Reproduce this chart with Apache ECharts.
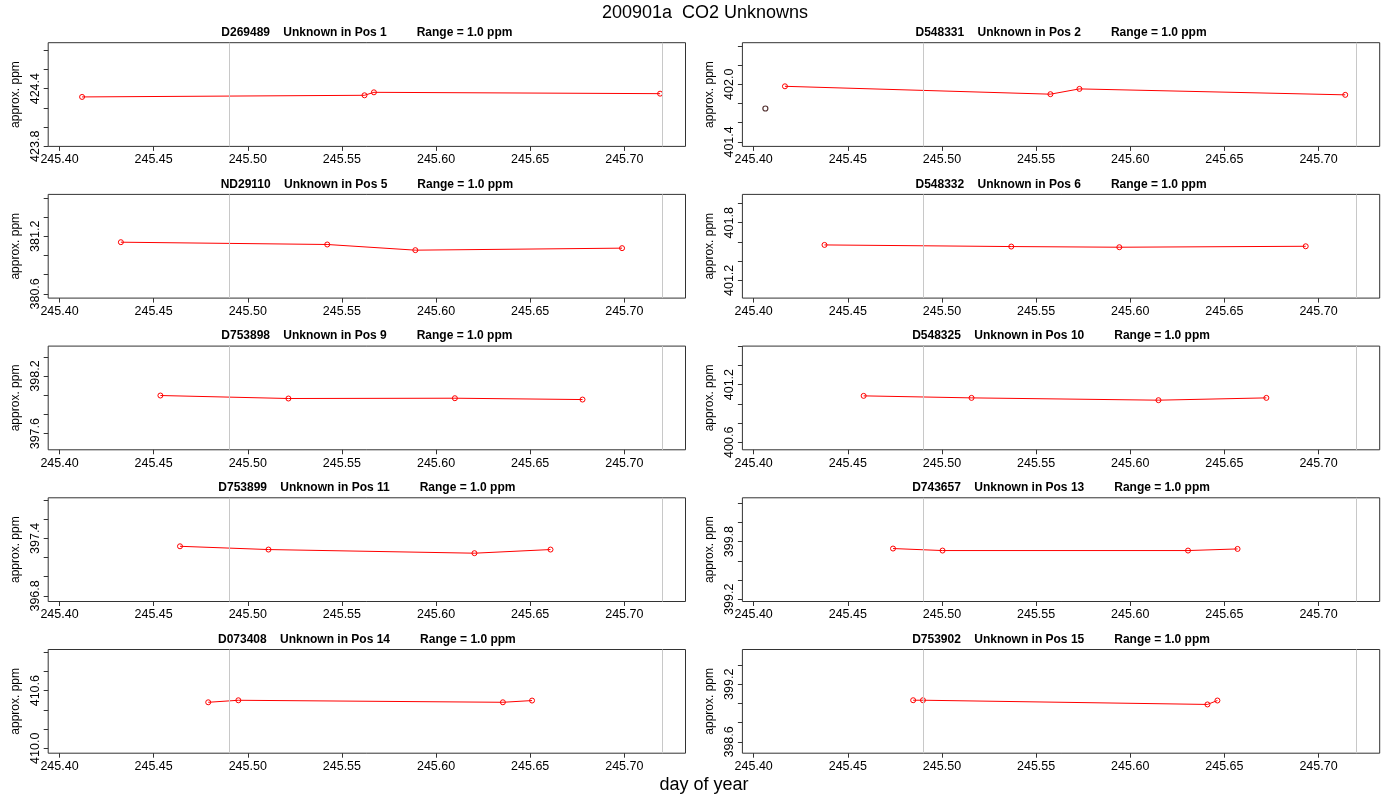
<!DOCTYPE html>
<html>
<head>
<meta charset="utf-8">
<title>200901a CO2 Unknowns</title>
<script src="https://cdn.jsdelivr.net/npm/echarts@6.0.0/dist/echarts.min.js"></script>
<style>
  html, body { margin: 0; padding: 0; background: #fff; }
  #chart { width: 1400px; height: 800px; }
</style>
</head>
<body>
<div id="chart"></div>
<script>
// panel order: row by row, left then right
const panelTitles = [
    'D269489    Unknown in Pos 1         Range = 1.0 ppm',
    'D548331    Unknown in Pos 2         Range = 1.0 ppm',
    'ND29110    Unknown in Pos 5         Range = 1.0 ppm',
    'D548332    Unknown in Pos 6         Range = 1.0 ppm',
    'D753898    Unknown in Pos 9         Range = 1.0 ppm',
    'D548325    Unknown in Pos 10         Range = 1.0 ppm',
    'D753899    Unknown in Pos 11         Range = 1.0 ppm',
    'D743657    Unknown in Pos 13         Range = 1.0 ppm',
    'D073408    Unknown in Pos 14         Range = 1.0 ppm',
    'D753902    Unknown in Pos 15         Range = 1.0 ppm'
];

const dayOfYear = [
    [245.412, 245.562, 245.567, 245.719],
    [245.4166, 245.5576, 245.573, 245.7142],
    [245.4326, 245.5422, 245.589, 245.6988],
    [245.4376, 245.5368, 245.5942, 245.6932],
    [245.4536, 245.5216, 245.610, 245.6778],
    [245.4584, 245.5157, 245.615, 245.6723],
    [245.464, 245.511, 245.6204, 245.6608],
    [245.474, 245.5003, 245.6307, 245.657],
    [245.479, 245.495, 245.6355, 245.651],
    [245.4847, 245.4899, 245.641, 245.6463]
];

const ppm = [
    [424.314, 424.331, 424.362, 424.348],
    [401.979, 401.897, 401.952, 401.890],
    [381.138, 381.114, 381.055, 381.076],
    [401.569, 401.552, 401.545, 401.555],
    [397.997, 397.966, 397.969, 397.955],
    [401.083, 401.062, 401.038, 401.062],
    [397.317, 397.283, 397.245, 397.283],
    [399.728, 399.707, 399.707, 399.724],
    [410.479, 410.500, 410.479, 410.497],
    [399.034, 399.034, 398.990, 399.031]
];

// the lone dark point in Pos 2
const flaggedPanel = 1;
const flaggedDay = [245.4062];
const flaggedPpm = [401.748];

const xTicks = [245.40, 245.45, 245.50, 245.55, 245.60, 245.65, 245.70];
const xRange = [245.394, 245.7325];
const refLines = [245.4857, 245.7206];

const yLabels = [
    [423.8, 424.4], [401.4, 402.0], [380.6, 381.2], [401.2, 401.8], [397.6, 398.2],
    [400.6, 401.2], [396.8, 397.4], [399.2, 399.8], [410.0, 410.6], [398.6, 399.2]
];
const yStep = 0.2;
const rangePpm = 1.0;

// layout
const colLeft = [48.2, 742.4];
const rowTop = [42.7, 194.4, 346.1, 497.8, 649.5];
const boxW = 637.3;
const boxH = 103.7;
const font = 'Liberation Sans, Arial, Helvetica, sans-serif';

var chart = echarts.init(document.getElementById('chart'));

var grids = [], xAxes = [], yAxes = [], series = [];
var titles = [
    { text: '200901a  CO2 Unknowns', left: 705, top: 4, textAlign: 'center', padding: 0,
      textStyle: { fontSize: 18, fontWeight: 'normal', color: '#000', fontFamily: font } },
    { text: 'day of year', left: 704, top: 776, textAlign: 'center', padding: 0,
      textStyle: { fontSize: 18, fontWeight: 'normal', color: '#000', fontFamily: font } }
];

panelTitles.forEach(function (t, i) {
    var left = colLeft[i % 2];
    var top = rowTop[Math.floor(i / 2)];

    // y range: mean of the points +/- half the range, with R's 4% padding
    var all = ppm[i].slice();
    if (i === flaggedPanel) all = all.concat(flaggedPpm);
    var mean = all.reduce(function (a, b) { return a + b; }, 0) / all.length;
    var pad = rangePpm * 0.04;
    var yMin = mean - rangePpm / 2 - pad;
    var yMax = mean + rangePpm / 2 + pad;
    var yTicks = [];
    for (var v = Math.ceil(yMin / yStep) * yStep; v <= yMax; v += yStep) {
        yTicks.push(Math.round(v * 10) / 10);
    }

    grids.push({
        left: left, top: top, width: boxW, height: boxH,
        show: true, borderColor: '#333', borderWidth: 1,
        backgroundColor: 'transparent', outerBoundsMode: 'none'
    });

    titles.push({
        text: t, left: left + boxW / 2, top: top - 16, textAlign: 'center', padding: 0,
        textStyle: { fontSize: 12, fontWeight: 'bold', color: '#000', fontFamily: font }
    });

    xAxes.push({
        type: 'value', gridIndex: i, min: xRange[0], max: xRange[1],
        axisLine: { show: false },
        splitLine: { show: false },
        axisTick: { show: true, length: 4.5, lineStyle: { color: '#333' }, customValues: xTicks },
        axisLabel: {
            customValues: xTicks, margin: 7, fontSize: 12.5, color: '#000', fontFamily: font,
            formatter: function (val) { return val.toFixed(2); }
        }
    });

    yAxes.push({
        type: 'value', gridIndex: i, min: yMin, max: yMax,
        name: 'approx. ppm', nameLocation: 'middle', nameGap: 27,
        nameTextStyle: { fontSize: 12, color: '#000', fontFamily: font },
        axisLine: { show: false },
        splitLine: { show: false },
        axisTick: { show: true, length: 4.5, lineStyle: { color: '#333' }, customValues: yTicks },
        axisLabel: {
            customValues: yLabels[i], rotate: 90, margin: 6, fontSize: 12.5, color: '#000', fontFamily: font,
            formatter: function (val) { return val.toFixed(1); }
        }
    });

    series.push({
        type: 'line', xAxisIndex: i, yAxisIndex: i,
        data: dayOfYear[i].map(function (d, k) { return [d, ppm[i][k]]; }),
        symbol: 'circle', symbolSize: 5,
        lineStyle: { color: '#ff0000', width: 1 },
        itemStyle: { color: 'rgba(0,0,0,0)', borderColor: '#ff0000', borderWidth: 1 },
        markLine: {
            silent: true, symbol: ['none', 'none'], label: { show: false },
            lineStyle: { color: '#c8c8c8', width: 1, type: 'solid' },
            data: refLines.map(function (x) { return { xAxis: x }; })
        },
        z: 3
    });
});

series.push({
    type: 'scatter', xAxisIndex: flaggedPanel, yAxisIndex: flaggedPanel,
    data: flaggedDay.map(function (d, k) { return [d, flaggedPpm[k]]; }),
    symbol: 'circle', symbolSize: 5,
    itemStyle: { color: 'rgba(0,0,0,0)', borderColor: '#2a0000', borderWidth: 1.2 },
    z: 3
});

chart.setOption({
    animation: false,
    backgroundColor: '#fff',
    textStyle: { fontFamily: font },
    title: titles,
    grid: grids,
    xAxis: xAxes,
    yAxis: yAxes,
    series: series
});
</script>
</body>
</html>
